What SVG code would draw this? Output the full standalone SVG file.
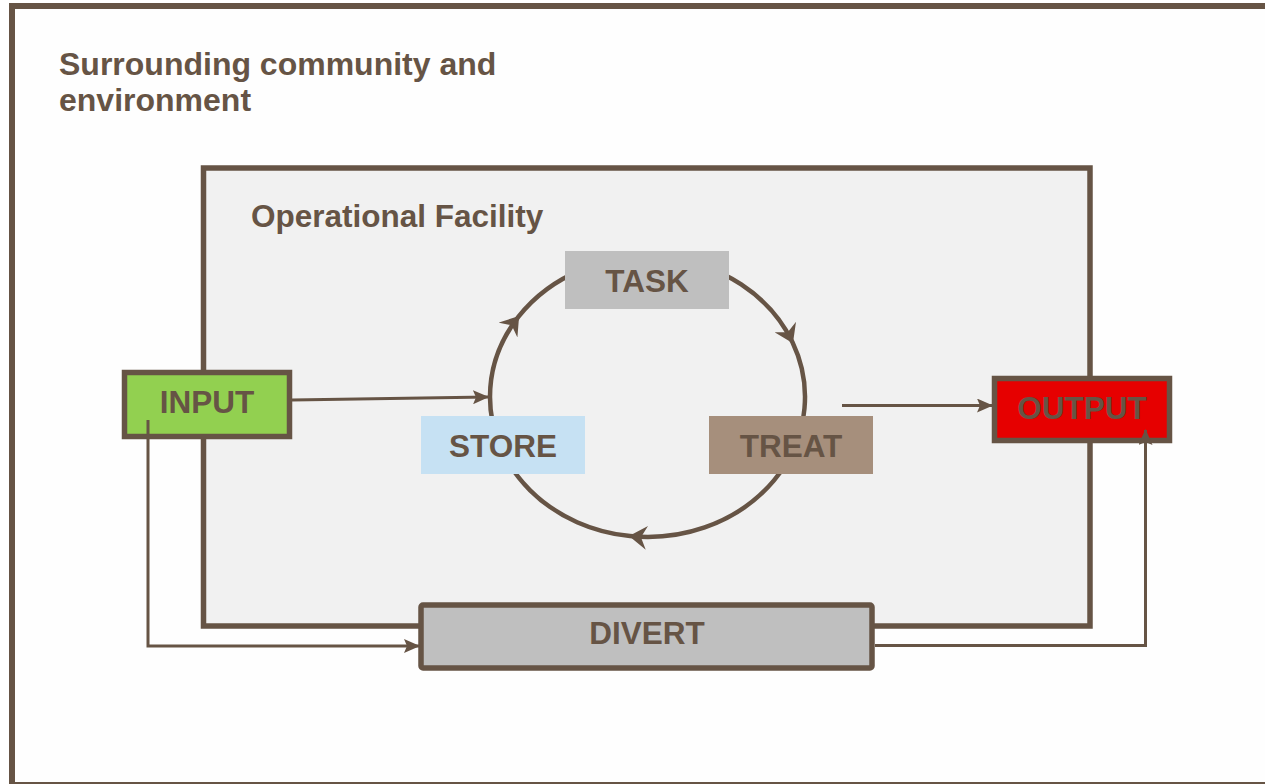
<svg xmlns="http://www.w3.org/2000/svg" width="1265" height="784" viewBox="0 0 1265 784">
  <style>
    .lbl { font-family: "Liberation Sans", Arial, Helvetica, sans-serif; font-weight: bold; font-size: 31.5px; fill: #665445; }
    .ttl { font-size: 32px; }
    .mid { text-anchor: middle; }
    .box { stroke: #665445; stroke-width: 5.5; }
    .conn { fill: none; stroke: #665445; stroke-width: 3; }
    .cyc { fill: none; stroke: #665445; stroke-width: 4.5; }
  </style>
  <defs>
    <marker id="arr" markerUnits="userSpaceOnUse" viewBox="0 0 16 14" refX="15" refY="7" markerWidth="16" markerHeight="14" orient="auto">
      <path d="M0,0 L16,7 L0,14 L3,7 z" fill="#665445"/>
    </marker>
    <marker id="barb" markerUnits="userSpaceOnUse" viewBox="0 0 18 24" refX="17" refY="12" markerWidth="18" markerHeight="24" orient="auto">
      <path d="M0,0 L18,12 L0,24 L6,12 z" fill="#665445"/>
    </marker>
  </defs>
  <rect x="0" y="0" width="1265" height="784" fill="#ffffff"/>
  <g id="community">
    <rect x="12" y="6" width="1270" height="779" fill="#fefefe" stroke="#665445" stroke-width="6"/>
    <text class="lbl ttl" x="59" y="75">Surrounding community and</text>
    <text class="lbl ttl" x="59" y="111">environment</text>
  </g>
  <g id="facility">
    <rect x="203.5" y="168" width="886.5" height="458" fill="#f1f1f1" stroke="#665445" stroke-width="5.5"/>
    <text class="lbl" x="251" y="227">Operational Facility</text>
  </g>
  <g id="cycle">
    <path class="cyc" marker-mid="url(#barb)" d="M490,397 A157.5,140 0 0,1 518.5,316.7 A157.5,140 0 0,1 792.5,342.3 A157.5,140 0 0,1 630,536.1 A157.5,140 0 0,1 490,397"/>
  </g>
  <g id="task">
    <rect x="565" y="251" width="164" height="58" fill="#bfbfbf"/>
    <text class="lbl mid" x="647" y="292">TASK</text>
  </g>
  <g id="store">
    <rect x="421" y="416" width="164" height="58" fill="#c6e1f3"/>
    <text class="lbl mid" x="503" y="457">STORE</text>
  </g>
  <g id="treat">
    <rect x="709" y="416" width="164" height="58" fill="#a68f7c"/>
    <text class="lbl mid" x="791" y="457">TREAT</text>
  </g>
  <g id="input">
    <rect class="box" x="124.5" y="372.5" width="165" height="64" fill="#92d050"/>
    <text class="lbl mid" x="207" y="413">INPUT</text>
  </g>
  <g id="output">
    <rect class="box" x="994.5" y="378.5" width="175" height="62" fill="#e60000"/>
    <text class="lbl mid" x="1082" y="419">OUTPUT</text>
  </g>
  <g id="divert">
    <rect class="box" x="421" y="605" width="451" height="63" rx="2" fill="#bfbfbf"/>
    <text class="lbl mid" x="647" y="644">DIVERT</text>
  </g>
  <g id="connectors">
    <path class="conn" marker-end="url(#arr)" d="M292,400 L488,397"/>
    <path class="conn" marker-end="url(#arr)" d="M842,405.5 L992,405.5"/>
    <path class="conn" marker-end="url(#arr)" d="M148,420 L148,646 L419,646"/>
    <path class="conn" marker-end="url(#arr)" d="M875,645.5 L1145.5,645.5 L1145.5,430"/>
  </g>
</svg>
